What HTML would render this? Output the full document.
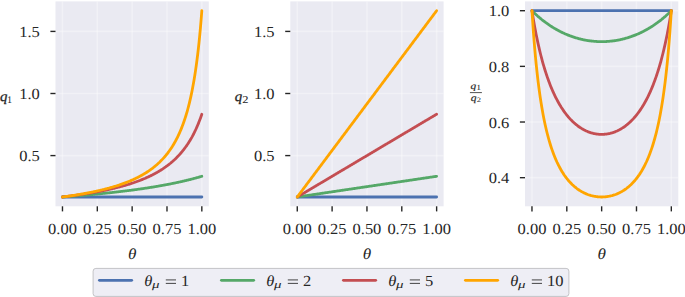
<!DOCTYPE html>
<html><head><meta charset="utf-8"><style>
html,body{margin:0;padding:0;background:#fff;}
body{width:685px;height:297px;position:relative;overflow:hidden;}
text{font-family:"Liberation Serif",serif;text-rendering:geometricPrecision;fill:#262626;font-kerning:none;stroke:#262626;stroke-width:0.0px;}
.t{font-size:15.4px;}
</style></head><body>
<svg width="685" height="297" viewBox="0 0 685 297" style="position:absolute;left:0;top:0">
<defs>
<clipPath id="c0"><rect x="55.5" y="1.4" width="153.3" height="204.90"/></clipPath>
<clipPath id="c1"><rect x="290.3" y="1.4" width="153.3" height="204.90"/></clipPath>
<clipPath id="c2"><rect x="525.0" y="1.4" width="153.3" height="204.90"/></clipPath>
</defs>
<rect x="55.5" y="1.4" width="153.3" height="204.90" fill="#EAEAF2"/>
<line x1="62.47" y1="1.4" x2="62.47" y2="206.3" stroke="#ffffff" stroke-opacity="0.32" stroke-width="1.6"/>
<line x1="97.31" y1="1.4" x2="97.31" y2="206.3" stroke="#ffffff" stroke-opacity="0.32" stroke-width="1.6"/>
<line x1="132.15" y1="1.4" x2="132.15" y2="206.3" stroke="#ffffff" stroke-opacity="0.32" stroke-width="1.6"/>
<line x1="166.99" y1="1.4" x2="166.99" y2="206.3" stroke="#ffffff" stroke-opacity="0.32" stroke-width="1.6"/>
<line x1="201.83" y1="1.4" x2="201.83" y2="206.3" stroke="#ffffff" stroke-opacity="0.32" stroke-width="1.6"/>
<line x1="55.5" y1="155.59" x2="208.80" y2="155.59" stroke="#ffffff" stroke-opacity="0.32" stroke-width="1.6"/>
<line x1="55.5" y1="93.50" x2="208.80" y2="93.50" stroke="#ffffff" stroke-opacity="0.32" stroke-width="1.6"/>
<line x1="55.5" y1="31.41" x2="208.80" y2="31.41" stroke="#ffffff" stroke-opacity="0.32" stroke-width="1.6"/>
<g clip-path="url(#c0)" fill="none" stroke-width="2.8" stroke-linecap="round" stroke-linejoin="round">
<path d="M62.47,196.99 L63.16,196.99 L63.86,196.99 L64.56,196.99 L65.26,196.99 L65.95,196.99 L66.65,196.99 L67.35,196.99 L68.04,196.99 L68.74,196.99 L69.44,196.99 L70.13,196.99 L70.83,196.99 L71.53,196.99 L72.22,196.99 L72.92,196.99 L73.62,196.99 L74.31,196.99 L75.01,196.99 L75.71,196.99 L76.40,196.99 L77.10,196.99 L77.80,196.99 L78.50,196.99 L79.19,196.99 L79.89,196.99 L80.59,196.99 L81.28,196.99 L81.98,196.99 L82.68,196.99 L83.37,196.99 L84.07,196.99 L84.77,196.99 L85.46,196.99 L86.16,196.99 L86.86,196.99 L87.55,196.99 L88.25,196.99 L88.95,196.99 L89.64,196.99 L90.34,196.99 L91.04,196.99 L91.73,196.99 L92.43,196.99 L93.13,196.99 L93.83,196.99 L94.52,196.99 L95.22,196.99 L95.92,196.99 L96.61,196.99 L97.31,196.99 L98.01,196.99 L98.70,196.99 L99.40,196.99 L100.10,196.99 L100.79,196.99 L101.49,196.99 L102.19,196.99 L102.88,196.99 L103.58,196.99 L104.28,196.99 L104.97,196.99 L105.67,196.99 L106.37,196.99 L107.06,196.99 L107.76,196.99 L108.46,196.99 L109.16,196.99 L109.85,196.99 L110.55,196.99 L111.25,196.99 L111.94,196.99 L112.64,196.99 L113.34,196.99 L114.03,196.99 L114.73,196.99 L115.43,196.99 L116.12,196.99 L116.82,196.99 L117.52,196.99 L118.21,196.99 L118.91,196.99 L119.61,196.99 L120.30,196.99 L121.00,196.99 L121.70,196.99 L122.39,196.99 L123.09,196.99 L123.79,196.99 L124.48,196.99 L125.18,196.99 L125.88,196.99 L126.58,196.99 L127.27,196.99 L127.97,196.99 L128.67,196.99 L129.36,196.99 L130.06,196.99 L130.76,196.99 L131.45,196.99 L132.15,196.99 L132.85,196.99 L133.54,196.99 L134.24,196.99 L134.94,196.99 L135.63,196.99 L136.33,196.99 L137.03,196.99 L137.72,196.99 L138.42,196.99 L139.12,196.99 L139.81,196.99 L140.51,196.99 L141.21,196.99 L141.91,196.99 L142.60,196.99 L143.30,196.99 L144.00,196.99 L144.69,196.99 L145.39,196.99 L146.09,196.99 L146.78,196.99 L147.48,196.99 L148.18,196.99 L148.87,196.99 L149.57,196.99 L150.27,196.99 L150.96,196.99 L151.66,196.99 L152.36,196.99 L153.05,196.99 L153.75,196.99 L154.45,196.99 L155.15,196.99 L155.84,196.99 L156.54,196.99 L157.24,196.99 L157.93,196.99 L158.63,196.99 L159.33,196.99 L160.02,196.99 L160.72,196.99 L161.42,196.99 L162.11,196.99 L162.81,196.99 L163.51,196.99 L164.20,196.99 L164.90,196.99 L165.60,196.99 L166.29,196.99 L166.99,196.99 L167.69,196.99 L168.38,196.99 L169.08,196.99 L169.78,196.99 L170.48,196.99 L171.17,196.99 L171.87,196.99 L172.57,196.99 L173.26,196.99 L173.96,196.99 L174.66,196.99 L175.35,196.99 L176.05,196.99 L176.75,196.99 L177.44,196.99 L178.14,196.99 L178.84,196.99 L179.53,196.99 L180.23,196.99 L180.93,196.99 L181.62,196.99 L182.32,196.99 L183.02,196.99 L183.71,196.99 L184.41,196.99 L185.11,196.99 L185.81,196.99 L186.50,196.99 L187.20,196.99 L187.90,196.99 L188.59,196.99 L189.29,196.99 L189.99,196.99 L190.68,196.99 L191.38,196.99 L192.08,196.99 L192.77,196.99 L193.47,196.99 L194.17,196.99 L194.86,196.99 L195.56,196.99 L196.26,196.99 L196.95,196.99 L197.65,196.99 L198.35,196.99 L199.04,196.99 L199.74,196.99 L200.44,196.99 L201.13,196.99 L201.83,196.99" stroke="#4C72B0"/>
<path d="M62.47,196.99 L63.16,196.93 L63.86,196.88 L64.56,196.83 L65.26,196.78 L65.95,196.72 L66.65,196.67 L67.35,196.62 L68.04,196.56 L68.74,196.51 L69.44,196.46 L70.13,196.40 L70.83,196.35 L71.53,196.29 L72.22,196.24 L72.92,196.18 L73.62,196.12 L74.31,196.07 L75.01,196.01 L75.71,195.95 L76.40,195.90 L77.10,195.84 L77.80,195.78 L78.50,195.72 L79.19,195.67 L79.89,195.61 L80.59,195.55 L81.28,195.49 L81.98,195.43 L82.68,195.37 L83.37,195.31 L84.07,195.25 L84.77,195.19 L85.46,195.13 L86.16,195.06 L86.86,195.00 L87.55,194.94 L88.25,194.88 L88.95,194.81 L89.64,194.75 L90.34,194.69 L91.04,194.62 L91.73,194.56 L92.43,194.49 L93.13,194.43 L93.83,194.36 L94.52,194.30 L95.22,194.23 L95.92,194.16 L96.61,194.10 L97.31,194.03 L98.01,193.96 L98.70,193.89 L99.40,193.83 L100.10,193.76 L100.79,193.69 L101.49,193.62 L102.19,193.55 L102.88,193.48 L103.58,193.41 L104.28,193.33 L104.97,193.26 L105.67,193.19 L106.37,193.12 L107.06,193.04 L107.76,192.97 L108.46,192.90 L109.16,192.82 L109.85,192.75 L110.55,192.67 L111.25,192.60 L111.94,192.52 L112.64,192.44 L113.34,192.37 L114.03,192.29 L114.73,192.21 L115.43,192.13 L116.12,192.05 L116.82,191.97 L117.52,191.89 L118.21,191.81 L118.91,191.73 L119.61,191.65 L120.30,191.57 L121.00,191.48 L121.70,191.40 L122.39,191.32 L123.09,191.23 L123.79,191.15 L124.48,191.06 L125.18,190.98 L125.88,190.89 L126.58,190.80 L127.27,190.72 L127.97,190.63 L128.67,190.54 L129.36,190.45 L130.06,190.36 L130.76,190.27 L131.45,190.18 L132.15,190.09 L132.85,190.00 L133.54,189.90 L134.24,189.81 L134.94,189.71 L135.63,189.62 L136.33,189.52 L137.03,189.43 L137.72,189.33 L138.42,189.23 L139.12,189.14 L139.81,189.04 L140.51,188.94 L141.21,188.84 L141.91,188.74 L142.60,188.63 L143.30,188.53 L144.00,188.43 L144.69,188.33 L145.39,188.22 L146.09,188.12 L146.78,188.01 L147.48,187.90 L148.18,187.80 L148.87,187.69 L149.57,187.58 L150.27,187.47 L150.96,187.36 L151.66,187.25 L152.36,187.13 L153.05,187.02 L153.75,186.91 L154.45,186.79 L155.15,186.68 L155.84,186.56 L156.54,186.44 L157.24,186.32 L157.93,186.21 L158.63,186.08 L159.33,185.96 L160.02,185.84 L160.72,185.72 L161.42,185.60 L162.11,185.47 L162.81,185.34 L163.51,185.22 L164.20,185.09 L164.90,184.96 L165.60,184.83 L166.29,184.70 L166.99,184.57 L167.69,184.44 L168.38,184.30 L169.08,184.17 L169.78,184.03 L170.48,183.89 L171.17,183.75 L171.87,183.61 L172.57,183.47 L173.26,183.33 L173.96,183.19 L174.66,183.04 L175.35,182.90 L176.05,182.75 L176.75,182.60 L177.44,182.45 L178.14,182.30 L178.84,182.15 L179.53,182.00 L180.23,181.84 L180.93,181.69 L181.62,181.53 L182.32,181.37 L183.02,181.21 L183.71,181.05 L184.41,180.89 L185.11,180.72 L185.81,180.56 L186.50,180.39 L187.20,180.22 L187.90,180.05 L188.59,179.88 L189.29,179.71 L189.99,179.53 L190.68,179.36 L191.38,179.18 L192.08,179.00 L192.77,178.82 L193.47,178.63 L194.17,178.45 L194.86,178.26 L195.56,178.07 L196.26,177.88 L196.95,177.69 L197.65,177.50 L198.35,177.30 L199.04,177.10 L199.74,176.90 L200.44,176.70 L201.13,176.50 L201.83,176.29" stroke="#55A868"/>
<path d="M62.47,196.99 L63.16,196.90 L63.86,196.82 L64.56,196.73 L65.26,196.65 L65.95,196.56 L66.65,196.48 L67.35,196.39 L68.04,196.30 L68.74,196.21 L69.44,196.12 L70.13,196.03 L70.83,195.94 L71.53,195.85 L72.22,195.76 L72.92,195.67 L73.62,195.57 L74.31,195.48 L75.01,195.38 L75.71,195.28 L76.40,195.19 L77.10,195.09 L77.80,194.99 L78.50,194.89 L79.19,194.79 L79.89,194.69 L80.59,194.58 L81.28,194.48 L81.98,194.38 L82.68,194.27 L83.37,194.16 L84.07,194.06 L84.77,193.95 L85.46,193.84 L86.16,193.73 L86.86,193.62 L87.55,193.50 L88.25,193.39 L88.95,193.28 L89.64,193.16 L90.34,193.04 L91.04,192.93 L91.73,192.81 L92.43,192.69 L93.13,192.57 L93.83,192.44 L94.52,192.32 L95.22,192.19 L95.92,192.07 L96.61,191.94 L97.31,191.81 L98.01,191.68 L98.70,191.55 L99.40,191.42 L100.10,191.28 L100.79,191.15 L101.49,191.01 L102.19,190.87 L102.88,190.73 L103.58,190.59 L104.28,190.45 L104.97,190.31 L105.67,190.16 L106.37,190.01 L107.06,189.86 L107.76,189.71 L108.46,189.56 L109.16,189.41 L109.85,189.25 L110.55,189.10 L111.25,188.94 L111.94,188.78 L112.64,188.61 L113.34,188.45 L114.03,188.28 L114.73,188.12 L115.43,187.95 L116.12,187.77 L116.82,187.60 L117.52,187.42 L118.21,187.25 L118.91,187.07 L119.61,186.88 L120.30,186.70 L121.00,186.51 L121.70,186.32 L122.39,186.13 L123.09,185.94 L123.79,185.74 L124.48,185.55 L125.18,185.34 L125.88,185.14 L126.58,184.93 L127.27,184.73 L127.97,184.52 L128.67,184.30 L129.36,184.08 L130.06,183.86 L130.76,183.64 L131.45,183.42 L132.15,183.19 L132.85,182.96 L133.54,182.72 L134.24,182.48 L134.94,182.24 L135.63,182.00 L136.33,181.75 L137.03,181.50 L137.72,181.25 L138.42,180.99 L139.12,180.72 L139.81,180.46 L140.51,180.19 L141.21,179.92 L141.91,179.64 L142.60,179.36 L143.30,179.07 L144.00,178.78 L144.69,178.48 L145.39,178.19 L146.09,177.88 L146.78,177.57 L147.48,177.26 L148.18,176.94 L148.87,176.62 L149.57,176.29 L150.27,175.96 L150.96,175.62 L151.66,175.27 L152.36,174.92 L153.05,174.56 L153.75,174.20 L154.45,173.83 L155.15,173.46 L155.84,173.08 L156.54,172.69 L157.24,172.30 L157.93,171.89 L158.63,171.48 L159.33,171.07 L160.02,170.64 L160.72,170.21 L161.42,169.77 L162.11,169.33 L162.81,168.87 L163.51,168.40 L164.20,167.93 L164.90,167.45 L165.60,166.96 L166.29,166.45 L166.99,165.94 L167.69,165.42 L168.38,164.88 L169.08,164.34 L169.78,163.78 L170.48,163.22 L171.17,162.64 L171.87,162.05 L172.57,161.44 L173.26,160.82 L173.96,160.19 L174.66,159.55 L175.35,158.89 L176.05,158.21 L176.75,157.52 L177.44,156.81 L178.14,156.09 L178.84,155.34 L179.53,154.58 L180.23,153.80 L180.93,153.01 L181.62,152.19 L182.32,151.35 L183.02,150.49 L183.71,149.60 L184.41,148.69 L185.11,147.76 L185.81,146.80 L186.50,145.82 L187.20,144.81 L187.90,143.77 L188.59,142.69 L189.29,141.59 L189.99,140.46 L190.68,139.29 L191.38,138.08 L192.08,136.84 L192.77,135.55 L193.47,134.23 L194.17,132.86 L194.86,131.45 L195.56,129.98 L196.26,128.47 L196.95,126.91 L197.65,125.29 L198.35,123.61 L199.04,121.86 L199.74,120.06 L200.44,118.18 L201.13,116.23 L201.83,114.20" stroke="#C44E52"/>
<path d="M62.47,196.99 L63.16,196.89 L63.86,196.80 L64.56,196.70 L65.26,196.61 L65.95,196.51 L66.65,196.41 L67.35,196.31 L68.04,196.21 L68.74,196.11 L69.44,196.01 L70.13,195.91 L70.83,195.80 L71.53,195.70 L72.22,195.59 L72.92,195.49 L73.62,195.38 L74.31,195.27 L75.01,195.16 L75.71,195.05 L76.40,194.94 L77.10,194.83 L77.80,194.71 L78.50,194.60 L79.19,194.48 L79.89,194.36 L80.59,194.24 L81.28,194.12 L81.98,194.00 L82.68,193.88 L83.37,193.76 L84.07,193.63 L84.77,193.50 L85.46,193.38 L86.16,193.25 L86.86,193.12 L87.55,192.99 L88.25,192.85 L88.95,192.72 L89.64,192.58 L90.34,192.44 L91.04,192.30 L91.73,192.16 L92.43,192.02 L93.13,191.88 L93.83,191.73 L94.52,191.58 L95.22,191.43 L95.92,191.28 L96.61,191.13 L97.31,190.98 L98.01,190.82 L98.70,190.66 L99.40,190.50 L100.10,190.34 L100.79,190.18 L101.49,190.01 L102.19,189.85 L102.88,189.68 L103.58,189.51 L104.28,189.33 L104.97,189.16 L105.67,188.98 L106.37,188.80 L107.06,188.61 L107.76,188.43 L108.46,188.24 L109.16,188.05 L109.85,187.86 L110.55,187.67 L111.25,187.47 L111.94,187.27 L112.64,187.07 L113.34,186.86 L114.03,186.65 L114.73,186.44 L115.43,186.23 L116.12,186.01 L116.82,185.79 L117.52,185.57 L118.21,185.34 L118.91,185.12 L119.61,184.88 L120.30,184.65 L121.00,184.41 L121.70,184.17 L122.39,183.92 L123.09,183.67 L123.79,183.42 L124.48,183.16 L125.18,182.90 L125.88,182.63 L126.58,182.36 L127.27,182.09 L127.97,181.81 L128.67,181.53 L129.36,181.25 L130.06,180.95 L130.76,180.66 L131.45,180.36 L132.15,180.05 L132.85,179.74 L133.54,179.43 L134.24,179.11 L134.94,178.78 L135.63,178.45 L136.33,178.11 L137.03,177.77 L137.72,177.42 L138.42,177.06 L139.12,176.70 L139.81,176.33 L140.51,175.96 L141.21,175.57 L141.91,175.18 L142.60,174.79 L143.30,174.38 L144.00,173.97 L144.69,173.55 L145.39,173.13 L146.09,172.69 L146.78,172.25 L147.48,171.79 L148.18,171.33 L148.87,170.86 L149.57,170.38 L150.27,169.88 L150.96,169.38 L151.66,168.87 L152.36,168.35 L153.05,167.81 L153.75,167.26 L154.45,166.71 L155.15,166.13 L155.84,165.55 L156.54,164.95 L157.24,164.34 L157.93,163.71 L158.63,163.07 L159.33,162.42 L160.02,161.75 L160.72,161.06 L161.42,160.35 L162.11,159.63 L162.81,158.89 L163.51,158.12 L164.20,157.34 L164.90,156.54 L165.60,155.72 L166.29,154.87 L166.99,154.00 L167.69,153.11 L168.38,152.19 L169.08,151.24 L169.78,150.27 L170.48,149.26 L171.17,148.23 L171.87,147.17 L172.57,146.07 L173.26,144.93 L173.96,143.77 L174.66,142.56 L175.35,141.31 L176.05,140.02 L176.75,138.69 L177.44,137.31 L178.14,135.88 L178.84,134.40 L179.53,132.86 L180.23,131.27 L180.93,129.61 L181.62,127.89 L182.32,126.10 L183.02,124.24 L183.71,122.31 L184.41,120.29 L185.11,118.18 L185.81,115.98 L186.50,113.68 L187.20,111.27 L187.90,108.75 L188.59,106.11 L189.29,103.34 L189.99,100.42 L190.68,97.35 L191.38,94.12 L192.08,90.71 L192.77,87.10 L193.47,83.29 L194.17,79.24 L194.86,74.95 L195.56,70.37 L196.26,65.50 L196.95,60.29 L197.65,54.72 L198.35,48.73 L199.04,42.29 L199.74,35.33 L200.44,27.80 L201.13,19.63 L201.83,10.71" stroke="#FFA500"/>
</g>
<line x1="62.47" y1="206.3" x2="62.47" y2="211.40" stroke="#262626" stroke-width="1.4"/>
<text transform="translate(62.47,233.80) scale(1.07,1)" text-anchor="middle" class="t">0.00</text>
<line x1="97.31" y1="206.3" x2="97.31" y2="211.40" stroke="#262626" stroke-width="1.4"/>
<text transform="translate(97.31,233.80) scale(1.07,1)" text-anchor="middle" class="t">0.25</text>
<line x1="132.15" y1="206.3" x2="132.15" y2="211.40" stroke="#262626" stroke-width="1.4"/>
<text transform="translate(132.15,233.80) scale(1.07,1)" text-anchor="middle" class="t">0.50</text>
<line x1="166.99" y1="206.3" x2="166.99" y2="211.40" stroke="#262626" stroke-width="1.4"/>
<text transform="translate(166.99,233.80) scale(1.07,1)" text-anchor="middle" class="t">0.75</text>
<line x1="201.83" y1="206.3" x2="201.83" y2="211.40" stroke="#262626" stroke-width="1.4"/>
<text transform="translate(201.83,233.80) scale(1.07,1)" text-anchor="middle" class="t">1.00</text>
<line x1="50.40" y1="155.59" x2="55.5" y2="155.59" stroke="#262626" stroke-width="1.4"/>
<text transform="translate(39.80,161.09) scale(1.07,1)" text-anchor="end" class="t">0.5</text>
<line x1="50.40" y1="93.50" x2="55.5" y2="93.50" stroke="#262626" stroke-width="1.4"/>
<text transform="translate(39.80,99.00) scale(1.07,1)" text-anchor="end" class="t">1.0</text>
<line x1="50.40" y1="31.41" x2="55.5" y2="31.41" stroke="#262626" stroke-width="1.4"/>
<text transform="translate(39.80,36.91) scale(1.07,1)" text-anchor="end" class="t">1.5</text>
<text transform="translate(127.96,258.55) scale(1.128,1)" style="font-size:15.23px;font-style:italic;">θ</text>
<rect x="290.3" y="1.4" width="153.3" height="204.90" fill="#EAEAF2"/>
<line x1="297.27" y1="1.4" x2="297.27" y2="206.3" stroke="#ffffff" stroke-opacity="0.32" stroke-width="1.6"/>
<line x1="332.11" y1="1.4" x2="332.11" y2="206.3" stroke="#ffffff" stroke-opacity="0.32" stroke-width="1.6"/>
<line x1="366.95" y1="1.4" x2="366.95" y2="206.3" stroke="#ffffff" stroke-opacity="0.32" stroke-width="1.6"/>
<line x1="401.79" y1="1.4" x2="401.79" y2="206.3" stroke="#ffffff" stroke-opacity="0.32" stroke-width="1.6"/>
<line x1="436.63" y1="1.4" x2="436.63" y2="206.3" stroke="#ffffff" stroke-opacity="0.32" stroke-width="1.6"/>
<line x1="290.3" y1="155.59" x2="443.60" y2="155.59" stroke="#ffffff" stroke-opacity="0.32" stroke-width="1.6"/>
<line x1="290.3" y1="93.50" x2="443.60" y2="93.50" stroke="#ffffff" stroke-opacity="0.32" stroke-width="1.6"/>
<line x1="290.3" y1="31.41" x2="443.60" y2="31.41" stroke="#ffffff" stroke-opacity="0.32" stroke-width="1.6"/>
<g clip-path="url(#c1)" fill="none" stroke-width="2.8" stroke-linecap="round" stroke-linejoin="round">
<path d="M297.27,196.99 L297.97,196.99 L298.66,196.99 L299.36,196.99 L300.06,196.99 L300.75,196.99 L301.45,196.99 L302.15,196.99 L302.84,196.99 L303.54,196.99 L304.24,196.99 L304.93,196.99 L305.63,196.99 L306.33,196.99 L307.02,196.99 L307.72,196.99 L308.42,196.99 L309.11,196.99 L309.81,196.99 L310.51,196.99 L311.20,196.99 L311.90,196.99 L312.60,196.99 L313.30,196.99 L313.99,196.99 L314.69,196.99 L315.39,196.99 L316.08,196.99 L316.78,196.99 L317.48,196.99 L318.17,196.99 L318.87,196.99 L319.57,196.99 L320.26,196.99 L320.96,196.99 L321.66,196.99 L322.35,196.99 L323.05,196.99 L323.75,196.99 L324.44,196.99 L325.14,196.99 L325.84,196.99 L326.53,196.99 L327.23,196.99 L327.93,196.99 L328.62,196.99 L329.32,196.99 L330.02,196.99 L330.72,196.99 L331.41,196.99 L332.11,196.99 L332.81,196.99 L333.50,196.99 L334.20,196.99 L334.90,196.99 L335.59,196.99 L336.29,196.99 L336.99,196.99 L337.68,196.99 L338.38,196.99 L339.08,196.99 L339.77,196.99 L340.47,196.99 L341.17,196.99 L341.86,196.99 L342.56,196.99 L343.26,196.99 L343.96,196.99 L344.65,196.99 L345.35,196.99 L346.05,196.99 L346.74,196.99 L347.44,196.99 L348.14,196.99 L348.83,196.99 L349.53,196.99 L350.23,196.99 L350.92,196.99 L351.62,196.99 L352.32,196.99 L353.01,196.99 L353.71,196.99 L354.41,196.99 L355.10,196.99 L355.80,196.99 L356.50,196.99 L357.19,196.99 L357.89,196.99 L358.59,196.99 L359.29,196.99 L359.98,196.99 L360.68,196.99 L361.38,196.99 L362.07,196.99 L362.77,196.99 L363.47,196.99 L364.16,196.99 L364.86,196.99 L365.56,196.99 L366.25,196.99 L366.95,196.99 L367.65,196.99 L368.34,196.99 L369.04,196.99 L369.74,196.99 L370.43,196.99 L371.13,196.99 L371.83,196.99 L372.52,196.99 L373.22,196.99 L373.92,196.99 L374.62,196.99 L375.31,196.99 L376.01,196.99 L376.71,196.99 L377.40,196.99 L378.10,196.99 L378.80,196.99 L379.49,196.99 L380.19,196.99 L380.89,196.99 L381.58,196.99 L382.28,196.99 L382.98,196.99 L383.67,196.99 L384.37,196.99 L385.07,196.99 L385.76,196.99 L386.46,196.99 L387.16,196.99 L387.85,196.99 L388.55,196.99 L389.25,196.99 L389.95,196.99 L390.64,196.99 L391.34,196.99 L392.04,196.99 L392.73,196.99 L393.43,196.99 L394.13,196.99 L394.82,196.99 L395.52,196.99 L396.22,196.99 L396.91,196.99 L397.61,196.99 L398.31,196.99 L399.00,196.99 L399.70,196.99 L400.40,196.99 L401.09,196.99 L401.79,196.99 L402.49,196.99 L403.18,196.99 L403.88,196.99 L404.58,196.99 L405.28,196.99 L405.97,196.99 L406.67,196.99 L407.37,196.99 L408.06,196.99 L408.76,196.99 L409.46,196.99 L410.15,196.99 L410.85,196.99 L411.55,196.99 L412.24,196.99 L412.94,196.99 L413.64,196.99 L414.33,196.99 L415.03,196.99 L415.73,196.99 L416.42,196.99 L417.12,196.99 L417.82,196.99 L418.51,196.99 L419.21,196.99 L419.91,196.99 L420.61,196.99 L421.30,196.99 L422.00,196.99 L422.70,196.99 L423.39,196.99 L424.09,196.99 L424.79,196.99 L425.48,196.99 L426.18,196.99 L426.88,196.99 L427.57,196.99 L428.27,196.99 L428.97,196.99 L429.66,196.99 L430.36,196.99 L431.06,196.99 L431.75,196.99 L432.45,196.99 L433.15,196.99 L433.84,196.99 L434.54,196.99 L435.24,196.99 L435.94,196.99 L436.63,196.99" stroke="#4C72B0"/>
<path d="M297.27,196.99 L297.97,196.88 L298.66,196.78 L299.36,196.68 L300.06,196.57 L300.75,196.47 L301.45,196.37 L302.15,196.26 L302.84,196.16 L303.54,196.06 L304.24,195.95 L304.93,195.85 L305.63,195.74 L306.33,195.64 L307.02,195.54 L307.72,195.43 L308.42,195.33 L309.11,195.23 L309.81,195.12 L310.51,195.02 L311.20,194.92 L311.90,194.81 L312.60,194.71 L313.30,194.61 L313.99,194.50 L314.69,194.40 L315.39,194.30 L316.08,194.19 L316.78,194.09 L317.48,193.99 L318.17,193.88 L318.87,193.78 L319.57,193.67 L320.26,193.57 L320.96,193.47 L321.66,193.36 L322.35,193.26 L323.05,193.16 L323.75,193.05 L324.44,192.95 L325.14,192.85 L325.84,192.74 L326.53,192.64 L327.23,192.54 L327.93,192.43 L328.62,192.33 L329.32,192.23 L330.02,192.12 L330.72,192.02 L331.41,191.92 L332.11,191.81 L332.81,191.71 L333.50,191.61 L334.20,191.50 L334.90,191.40 L335.59,191.29 L336.29,191.19 L336.99,191.09 L337.68,190.98 L338.38,190.88 L339.08,190.78 L339.77,190.67 L340.47,190.57 L341.17,190.47 L341.86,190.36 L342.56,190.26 L343.26,190.16 L343.96,190.05 L344.65,189.95 L345.35,189.85 L346.05,189.74 L346.74,189.64 L347.44,189.54 L348.14,189.43 L348.83,189.33 L349.53,189.22 L350.23,189.12 L350.92,189.02 L351.62,188.91 L352.32,188.81 L353.01,188.71 L353.71,188.60 L354.41,188.50 L355.10,188.40 L355.80,188.29 L356.50,188.19 L357.19,188.09 L357.89,187.98 L358.59,187.88 L359.29,187.78 L359.98,187.67 L360.68,187.57 L361.38,187.47 L362.07,187.36 L362.77,187.26 L363.47,187.16 L364.16,187.05 L364.86,186.95 L365.56,186.84 L366.25,186.74 L366.95,186.64 L367.65,186.53 L368.34,186.43 L369.04,186.33 L369.74,186.22 L370.43,186.12 L371.13,186.02 L371.83,185.91 L372.52,185.81 L373.22,185.71 L373.92,185.60 L374.62,185.50 L375.31,185.40 L376.01,185.29 L376.71,185.19 L377.40,185.09 L378.10,184.98 L378.80,184.88 L379.49,184.78 L380.19,184.67 L380.89,184.57 L381.58,184.46 L382.28,184.36 L382.98,184.26 L383.67,184.15 L384.37,184.05 L385.07,183.95 L385.76,183.84 L386.46,183.74 L387.16,183.64 L387.85,183.53 L388.55,183.43 L389.25,183.33 L389.95,183.22 L390.64,183.12 L391.34,183.02 L392.04,182.91 L392.73,182.81 L393.43,182.71 L394.13,182.60 L394.82,182.50 L395.52,182.40 L396.22,182.29 L396.91,182.19 L397.61,182.08 L398.31,181.98 L399.00,181.88 L399.70,181.77 L400.40,181.67 L401.09,181.57 L401.79,181.46 L402.49,181.36 L403.18,181.26 L403.88,181.15 L404.58,181.05 L405.28,180.95 L405.97,180.84 L406.67,180.74 L407.37,180.64 L408.06,180.53 L408.76,180.43 L409.46,180.33 L410.15,180.22 L410.85,180.12 L411.55,180.01 L412.24,179.91 L412.94,179.81 L413.64,179.70 L414.33,179.60 L415.03,179.50 L415.73,179.39 L416.42,179.29 L417.12,179.19 L417.82,179.08 L418.51,178.98 L419.21,178.88 L419.91,178.77 L420.61,178.67 L421.30,178.57 L422.00,178.46 L422.70,178.36 L423.39,178.26 L424.09,178.15 L424.79,178.05 L425.48,177.95 L426.18,177.84 L426.88,177.74 L427.57,177.63 L428.27,177.53 L428.97,177.43 L429.66,177.32 L430.36,177.22 L431.06,177.12 L431.75,177.01 L432.45,176.91 L433.15,176.81 L433.84,176.70 L434.54,176.60 L435.24,176.50 L435.94,176.39 L436.63,176.29" stroke="#55A868"/>
<path d="M297.27,196.99 L297.97,196.57 L298.66,196.16 L299.36,195.74 L300.06,195.33 L300.75,194.92 L301.45,194.50 L302.15,194.09 L302.84,193.67 L303.54,193.26 L304.24,192.85 L304.93,192.43 L305.63,192.02 L306.33,191.61 L307.02,191.19 L307.72,190.78 L308.42,190.36 L309.11,189.95 L309.81,189.54 L310.51,189.12 L311.20,188.71 L311.90,188.29 L312.60,187.88 L313.30,187.47 L313.99,187.05 L314.69,186.64 L315.39,186.22 L316.08,185.81 L316.78,185.40 L317.48,184.98 L318.17,184.57 L318.87,184.15 L319.57,183.74 L320.26,183.33 L320.96,182.91 L321.66,182.50 L322.35,182.08 L323.05,181.67 L323.75,181.26 L324.44,180.84 L325.14,180.43 L325.84,180.01 L326.53,179.60 L327.23,179.19 L327.93,178.77 L328.62,178.36 L329.32,177.95 L330.02,177.53 L330.72,177.12 L331.41,176.70 L332.11,176.29 L332.81,175.88 L333.50,175.46 L334.20,175.05 L334.90,174.63 L335.59,174.22 L336.29,173.81 L336.99,173.39 L337.68,172.98 L338.38,172.56 L339.08,172.15 L339.77,171.74 L340.47,171.32 L341.17,170.91 L341.86,170.49 L342.56,170.08 L343.26,169.67 L343.96,169.25 L344.65,168.84 L345.35,168.42 L346.05,168.01 L346.74,167.60 L347.44,167.18 L348.14,166.77 L348.83,166.35 L349.53,165.94 L350.23,165.53 L350.92,165.11 L351.62,164.70 L352.32,164.29 L353.01,163.87 L353.71,163.46 L354.41,163.04 L355.10,162.63 L355.80,162.22 L356.50,161.80 L357.19,161.39 L357.89,160.97 L358.59,160.56 L359.29,160.15 L359.98,159.73 L360.68,159.32 L361.38,158.90 L362.07,158.49 L362.77,158.08 L363.47,157.66 L364.16,157.25 L364.86,156.83 L365.56,156.42 L366.25,156.01 L366.95,155.59 L367.65,155.18 L368.34,154.76 L369.04,154.35 L369.74,153.94 L370.43,153.52 L371.13,153.11 L371.83,152.69 L372.52,152.28 L373.22,151.87 L373.92,151.45 L374.62,151.04 L375.31,150.63 L376.01,150.21 L376.71,149.80 L377.40,149.38 L378.10,148.97 L378.80,148.56 L379.49,148.14 L380.19,147.73 L380.89,147.31 L381.58,146.90 L382.28,146.49 L382.98,146.07 L383.67,145.66 L384.37,145.24 L385.07,144.83 L385.76,144.42 L386.46,144.00 L387.16,143.59 L387.85,143.17 L388.55,142.76 L389.25,142.35 L389.95,141.93 L390.64,141.52 L391.34,141.10 L392.04,140.69 L392.73,140.28 L393.43,139.86 L394.13,139.45 L394.82,139.03 L395.52,138.62 L396.22,138.21 L396.91,137.79 L397.61,137.38 L398.31,136.97 L399.00,136.55 L399.70,136.14 L400.40,135.72 L401.09,135.31 L401.79,134.90 L402.49,134.48 L403.18,134.07 L403.88,133.65 L404.58,133.24 L405.28,132.83 L405.97,132.41 L406.67,132.00 L407.37,131.58 L408.06,131.17 L408.76,130.76 L409.46,130.34 L410.15,129.93 L410.85,129.51 L411.55,129.10 L412.24,128.69 L412.94,128.27 L413.64,127.86 L414.33,127.44 L415.03,127.03 L415.73,126.62 L416.42,126.20 L417.12,125.79 L417.82,125.37 L418.51,124.96 L419.21,124.55 L419.91,124.13 L420.61,123.72 L421.30,123.31 L422.00,122.89 L422.70,122.48 L423.39,122.06 L424.09,121.65 L424.79,121.24 L425.48,120.82 L426.18,120.41 L426.88,119.99 L427.57,119.58 L428.27,119.17 L428.97,118.75 L429.66,118.34 L430.36,117.92 L431.06,117.51 L431.75,117.10 L432.45,116.68 L433.15,116.27 L433.84,115.85 L434.54,115.44 L435.24,115.03 L435.94,114.61 L436.63,114.20" stroke="#C44E52"/>
<path d="M297.27,196.99 L297.97,196.06 L298.66,195.12 L299.36,194.19 L300.06,193.26 L300.75,192.33 L301.45,191.40 L302.15,190.47 L302.84,189.54 L303.54,188.60 L304.24,187.67 L304.93,186.74 L305.63,185.81 L306.33,184.88 L307.02,183.95 L307.72,183.02 L308.42,182.08 L309.11,181.15 L309.81,180.22 L310.51,179.29 L311.20,178.36 L311.90,177.43 L312.60,176.50 L313.30,175.56 L313.99,174.63 L314.69,173.70 L315.39,172.77 L316.08,171.84 L316.78,170.91 L317.48,169.98 L318.17,169.05 L318.87,168.11 L319.57,167.18 L320.26,166.25 L320.96,165.32 L321.66,164.39 L322.35,163.46 L323.05,162.53 L323.75,161.59 L324.44,160.66 L325.14,159.73 L325.84,158.80 L326.53,157.87 L327.23,156.94 L327.93,156.01 L328.62,155.07 L329.32,154.14 L330.02,153.21 L330.72,152.28 L331.41,151.35 L332.11,150.42 L332.81,149.49 L333.50,148.56 L334.20,147.62 L334.90,146.69 L335.59,145.76 L336.29,144.83 L336.99,143.90 L337.68,142.97 L338.38,142.04 L339.08,141.10 L339.77,140.17 L340.47,139.24 L341.17,138.31 L341.86,137.38 L342.56,136.45 L343.26,135.52 L343.96,134.58 L344.65,133.65 L345.35,132.72 L346.05,131.79 L346.74,130.86 L347.44,129.93 L348.14,129.00 L348.83,128.07 L349.53,127.13 L350.23,126.20 L350.92,125.27 L351.62,124.34 L352.32,123.41 L353.01,122.48 L353.71,121.55 L354.41,120.61 L355.10,119.68 L355.80,118.75 L356.50,117.82 L357.19,116.89 L357.89,115.96 L358.59,115.03 L359.29,114.09 L359.98,113.16 L360.68,112.23 L361.38,111.30 L362.07,110.37 L362.77,109.44 L363.47,108.51 L364.16,107.58 L364.86,106.64 L365.56,105.71 L366.25,104.78 L366.95,103.85 L367.65,102.92 L368.34,101.99 L369.04,101.06 L369.74,100.12 L370.43,99.19 L371.13,98.26 L371.83,97.33 L372.52,96.40 L373.22,95.47 L373.92,94.54 L374.62,93.60 L375.31,92.67 L376.01,91.74 L376.71,90.81 L377.40,89.88 L378.10,88.95 L378.80,88.02 L379.49,87.09 L380.19,86.15 L380.89,85.22 L381.58,84.29 L382.28,83.36 L382.98,82.43 L383.67,81.50 L384.37,80.57 L385.07,79.63 L385.76,78.70 L386.46,77.77 L387.16,76.84 L387.85,75.91 L388.55,74.98 L389.25,74.05 L389.95,73.12 L390.64,72.18 L391.34,71.25 L392.04,70.32 L392.73,69.39 L393.43,68.46 L394.13,67.53 L394.82,66.60 L395.52,65.66 L396.22,64.73 L396.91,63.80 L397.61,62.87 L398.31,61.94 L399.00,61.01 L399.70,60.08 L400.40,59.14 L401.09,58.21 L401.79,57.28 L402.49,56.35 L403.18,55.42 L403.88,54.49 L404.58,53.56 L405.28,52.62 L405.97,51.69 L406.67,50.76 L407.37,49.83 L408.06,48.90 L408.76,47.97 L409.46,47.04 L410.15,46.11 L410.85,45.17 L411.55,44.24 L412.24,43.31 L412.94,42.38 L413.64,41.45 L414.33,40.52 L415.03,39.59 L415.73,38.65 L416.42,37.72 L417.12,36.79 L417.82,35.86 L418.51,34.93 L419.21,34.00 L419.91,33.07 L420.61,32.13 L421.30,31.20 L422.00,30.27 L422.70,29.34 L423.39,28.41 L424.09,27.48 L424.79,26.55 L425.48,25.62 L426.18,24.68 L426.88,23.75 L427.57,22.82 L428.27,21.89 L428.97,20.96 L429.66,20.03 L430.36,19.10 L431.06,18.16 L431.75,17.23 L432.45,16.30 L433.15,15.37 L433.84,14.44 L434.54,13.51 L435.24,12.58 L435.94,11.64 L436.63,10.71" stroke="#FFA500"/>
</g>
<line x1="297.27" y1="206.3" x2="297.27" y2="211.40" stroke="#262626" stroke-width="1.4"/>
<text transform="translate(297.27,233.80) scale(1.07,1)" text-anchor="middle" class="t">0.00</text>
<line x1="332.11" y1="206.3" x2="332.11" y2="211.40" stroke="#262626" stroke-width="1.4"/>
<text transform="translate(332.11,233.80) scale(1.07,1)" text-anchor="middle" class="t">0.25</text>
<line x1="366.95" y1="206.3" x2="366.95" y2="211.40" stroke="#262626" stroke-width="1.4"/>
<text transform="translate(366.95,233.80) scale(1.07,1)" text-anchor="middle" class="t">0.50</text>
<line x1="401.79" y1="206.3" x2="401.79" y2="211.40" stroke="#262626" stroke-width="1.4"/>
<text transform="translate(401.79,233.80) scale(1.07,1)" text-anchor="middle" class="t">0.75</text>
<line x1="436.63" y1="206.3" x2="436.63" y2="211.40" stroke="#262626" stroke-width="1.4"/>
<text transform="translate(436.63,233.80) scale(1.07,1)" text-anchor="middle" class="t">1.00</text>
<line x1="285.20" y1="155.59" x2="290.3" y2="155.59" stroke="#262626" stroke-width="1.4"/>
<text transform="translate(274.60,161.09) scale(1.07,1)" text-anchor="end" class="t">0.5</text>
<line x1="285.20" y1="93.50" x2="290.3" y2="93.50" stroke="#262626" stroke-width="1.4"/>
<text transform="translate(274.60,99.00) scale(1.07,1)" text-anchor="end" class="t">1.0</text>
<line x1="285.20" y1="31.41" x2="290.3" y2="31.41" stroke="#262626" stroke-width="1.4"/>
<text transform="translate(274.60,36.91) scale(1.07,1)" text-anchor="end" class="t">1.5</text>
<text transform="translate(362.76,258.55) scale(1.128,1)" style="font-size:15.23px;font-style:italic;">θ</text>
<rect x="525.0" y="1.4" width="153.3" height="204.90" fill="#EAEAF2"/>
<line x1="531.97" y1="1.4" x2="531.97" y2="206.3" stroke="#ffffff" stroke-opacity="0.32" stroke-width="1.6"/>
<line x1="566.81" y1="1.4" x2="566.81" y2="206.3" stroke="#ffffff" stroke-opacity="0.32" stroke-width="1.6"/>
<line x1="601.65" y1="1.4" x2="601.65" y2="206.3" stroke="#ffffff" stroke-opacity="0.32" stroke-width="1.6"/>
<line x1="636.49" y1="1.4" x2="636.49" y2="206.3" stroke="#ffffff" stroke-opacity="0.32" stroke-width="1.6"/>
<line x1="671.33" y1="1.4" x2="671.33" y2="206.3" stroke="#ffffff" stroke-opacity="0.32" stroke-width="1.6"/>
<line x1="525.0" y1="177.67" x2="678.30" y2="177.67" stroke="#ffffff" stroke-opacity="0.32" stroke-width="1.6"/>
<line x1="525.0" y1="122.02" x2="678.30" y2="122.02" stroke="#ffffff" stroke-opacity="0.32" stroke-width="1.6"/>
<line x1="525.0" y1="66.37" x2="678.30" y2="66.37" stroke="#ffffff" stroke-opacity="0.32" stroke-width="1.6"/>
<line x1="525.0" y1="10.71" x2="678.30" y2="10.71" stroke="#ffffff" stroke-opacity="0.32" stroke-width="1.6"/>
<g clip-path="url(#c2)" fill="none" stroke-width="2.8" stroke-linecap="round" stroke-linejoin="round">
<path d="M531.97,10.71 L532.66,10.71 L533.36,10.71 L534.06,10.71 L534.76,10.71 L535.45,10.71 L536.15,10.71 L536.85,10.71 L537.54,10.71 L538.24,10.71 L538.94,10.71 L539.63,10.71 L540.33,10.71 L541.03,10.71 L541.72,10.71 L542.42,10.71 L543.12,10.71 L543.81,10.71 L544.51,10.71 L545.21,10.71 L545.90,10.71 L546.60,10.71 L547.30,10.71 L548.00,10.71 L548.69,10.71 L549.39,10.71 L550.09,10.71 L550.78,10.71 L551.48,10.71 L552.18,10.71 L552.87,10.71 L553.57,10.71 L554.27,10.71 L554.96,10.71 L555.66,10.71 L556.36,10.71 L557.05,10.71 L557.75,10.71 L558.45,10.71 L559.14,10.71 L559.84,10.71 L560.54,10.71 L561.23,10.71 L561.93,10.71 L562.63,10.71 L563.33,10.71 L564.02,10.71 L564.72,10.71 L565.42,10.71 L566.11,10.71 L566.81,10.71 L567.51,10.71 L568.20,10.71 L568.90,10.71 L569.60,10.71 L570.29,10.71 L570.99,10.71 L571.69,10.71 L572.38,10.71 L573.08,10.71 L573.78,10.71 L574.47,10.71 L575.17,10.71 L575.87,10.71 L576.56,10.71 L577.26,10.71 L577.96,10.71 L578.65,10.71 L579.35,10.71 L580.05,10.71 L580.75,10.71 L581.44,10.71 L582.14,10.71 L582.84,10.71 L583.53,10.71 L584.23,10.71 L584.93,10.71 L585.62,10.71 L586.32,10.71 L587.02,10.71 L587.71,10.71 L588.41,10.71 L589.11,10.71 L589.80,10.71 L590.50,10.71 L591.20,10.71 L591.89,10.71 L592.59,10.71 L593.29,10.71 L593.99,10.71 L594.68,10.71 L595.38,10.71 L596.08,10.71 L596.77,10.71 L597.47,10.71 L598.17,10.71 L598.86,10.71 L599.56,10.71 L600.26,10.71 L600.95,10.71 L601.65,10.71 L602.35,10.71 L603.04,10.71 L603.74,10.71 L604.44,10.71 L605.13,10.71 L605.83,10.71 L606.53,10.71 L607.22,10.71 L607.92,10.71 L608.62,10.71 L609.32,10.71 L610.01,10.71 L610.71,10.71 L611.41,10.71 L612.10,10.71 L612.80,10.71 L613.50,10.71 L614.19,10.71 L614.89,10.71 L615.59,10.71 L616.28,10.71 L616.98,10.71 L617.68,10.71 L618.37,10.71 L619.07,10.71 L619.77,10.71 L620.46,10.71 L621.16,10.71 L621.86,10.71 L622.55,10.71 L623.25,10.71 L623.95,10.71 L624.64,10.71 L625.34,10.71 L626.04,10.71 L626.74,10.71 L627.43,10.71 L628.13,10.71 L628.83,10.71 L629.52,10.71 L630.22,10.71 L630.92,10.71 L631.61,10.71 L632.31,10.71 L633.01,10.71 L633.70,10.71 L634.40,10.71 L635.10,10.71 L635.79,10.71 L636.49,10.71 L637.19,10.71 L637.88,10.71 L638.58,10.71 L639.28,10.71 L639.98,10.71 L640.67,10.71 L641.37,10.71 L642.07,10.71 L642.76,10.71 L643.46,10.71 L644.16,10.71 L644.85,10.71 L645.55,10.71 L646.25,10.71 L646.94,10.71 L647.64,10.71 L648.34,10.71 L649.03,10.71 L649.73,10.71 L650.43,10.71 L651.12,10.71 L651.82,10.71 L652.52,10.71 L653.21,10.71 L653.91,10.71 L654.61,10.71 L655.31,10.71 L656.00,10.71 L656.70,10.71 L657.40,10.71 L658.09,10.71 L658.79,10.71 L659.49,10.71 L660.18,10.71 L660.88,10.71 L661.58,10.71 L662.27,10.71 L662.97,10.71 L663.67,10.71 L664.36,10.71 L665.06,10.71 L665.76,10.71 L666.45,10.71 L667.15,10.71 L667.85,10.71 L668.54,10.71 L669.24,10.71 L669.94,10.71 L670.63,10.71 L671.33,10.71" stroke="#4C72B0"/>
<path d="M531.97,10.71 L532.66,11.40 L533.36,12.08 L534.06,12.75 L534.76,13.41 L535.45,14.06 L536.15,14.70 L536.85,15.33 L537.54,15.96 L538.24,16.57 L538.94,17.17 L539.63,17.76 L540.33,18.35 L541.03,18.92 L541.72,19.49 L542.42,20.04 L543.12,20.59 L543.81,21.13 L544.51,21.66 L545.21,22.18 L545.90,22.70 L546.60,23.20 L547.30,23.70 L548.00,24.19 L548.69,24.67 L549.39,25.14 L550.09,25.61 L550.78,26.06 L551.48,26.51 L552.18,26.96 L552.87,27.39 L553.57,27.82 L554.27,28.24 L554.96,28.65 L555.66,29.05 L556.36,29.45 L557.05,29.84 L557.75,30.22 L558.45,30.60 L559.14,30.96 L559.84,31.33 L560.54,31.68 L561.23,32.03 L561.93,32.37 L562.63,32.70 L563.33,33.03 L564.02,33.35 L564.72,33.66 L565.42,33.97 L566.11,34.27 L566.81,34.56 L567.51,34.85 L568.20,35.13 L568.90,35.41 L569.60,35.68 L570.29,35.94 L570.99,36.19 L571.69,36.44 L572.38,36.69 L573.08,36.92 L573.78,37.15 L574.47,37.38 L575.17,37.60 L575.87,37.81 L576.56,38.02 L577.26,38.22 L577.96,38.41 L578.65,38.60 L579.35,38.78 L580.05,38.96 L580.75,39.13 L581.44,39.30 L582.14,39.46 L582.84,39.61 L583.53,39.76 L584.23,39.90 L584.93,40.04 L585.62,40.17 L586.32,40.29 L587.02,40.41 L587.71,40.53 L588.41,40.64 L589.11,40.74 L589.80,40.83 L590.50,40.93 L591.20,41.01 L591.89,41.09 L592.59,41.17 L593.29,41.23 L593.99,41.30 L594.68,41.36 L595.38,41.41 L596.08,41.46 L596.77,41.50 L597.47,41.53 L598.17,41.56 L598.86,41.59 L599.56,41.61 L600.26,41.62 L600.95,41.63 L601.65,41.63 L602.35,41.63 L603.04,41.62 L603.74,41.61 L604.44,41.59 L605.13,41.56 L605.83,41.53 L606.53,41.50 L607.22,41.46 L607.92,41.41 L608.62,41.36 L609.32,41.30 L610.01,41.23 L610.71,41.17 L611.41,41.09 L612.10,41.01 L612.80,40.93 L613.50,40.83 L614.19,40.74 L614.89,40.64 L615.59,40.53 L616.28,40.41 L616.98,40.29 L617.68,40.17 L618.37,40.04 L619.07,39.90 L619.77,39.76 L620.46,39.61 L621.16,39.46 L621.86,39.30 L622.55,39.13 L623.25,38.96 L623.95,38.78 L624.64,38.60 L625.34,38.41 L626.04,38.22 L626.74,38.02 L627.43,37.81 L628.13,37.60 L628.83,37.38 L629.52,37.15 L630.22,36.92 L630.92,36.69 L631.61,36.44 L632.31,36.19 L633.01,35.94 L633.70,35.68 L634.40,35.41 L635.10,35.13 L635.79,34.85 L636.49,34.56 L637.19,34.27 L637.88,33.97 L638.58,33.66 L639.28,33.35 L639.98,33.03 L640.67,32.70 L641.37,32.37 L642.07,32.03 L642.76,31.68 L643.46,31.33 L644.16,30.96 L644.85,30.60 L645.55,30.22 L646.25,29.84 L646.94,29.45 L647.64,29.05 L648.34,28.65 L649.03,28.24 L649.73,27.82 L650.43,27.39 L651.12,26.96 L651.82,26.51 L652.52,26.06 L653.21,25.61 L653.91,25.14 L654.61,24.67 L655.31,24.19 L656.00,23.70 L656.70,23.20 L657.40,22.70 L658.09,22.18 L658.79,21.66 L659.49,21.13 L660.18,20.59 L660.88,20.04 L661.58,19.49 L662.27,18.92 L662.97,18.35 L663.67,17.76 L664.36,17.17 L665.06,16.57 L665.76,15.96 L666.45,15.33 L667.15,14.70 L667.85,14.06 L668.54,13.41 L669.24,12.75 L669.94,12.08 L670.63,11.40 L671.33,10.71" stroke="#55A868"/>
<path d="M531.97,10.71 L532.66,15.07 L533.36,19.26 L534.06,23.28 L534.76,27.14 L535.45,30.85 L536.15,34.42 L536.85,37.85 L537.54,41.16 L538.24,44.35 L538.94,47.43 L539.63,50.39 L540.33,53.26 L541.03,56.02 L541.72,58.69 L542.42,61.26 L543.12,63.76 L543.81,66.17 L544.51,68.50 L545.21,70.75 L545.90,72.93 L546.60,75.05 L547.30,77.09 L548.00,79.07 L548.69,80.99 L549.39,82.85 L550.09,84.66 L550.78,86.41 L551.48,88.10 L552.18,89.75 L552.87,91.35 L553.57,92.89 L554.27,94.40 L554.96,95.86 L555.66,97.27 L556.36,98.65 L557.05,99.98 L557.75,101.27 L558.45,102.53 L559.14,103.75 L559.84,104.94 L560.54,106.09 L561.23,107.21 L561.93,108.29 L562.63,109.35 L563.33,110.37 L564.02,111.37 L564.72,112.33 L565.42,113.27 L566.11,114.18 L566.81,115.06 L567.51,115.92 L568.20,116.75 L568.90,117.55 L569.60,118.34 L570.29,119.10 L570.99,119.83 L571.69,120.54 L572.38,121.23 L573.08,121.90 L573.78,122.55 L574.47,123.18 L575.17,123.78 L575.87,124.37 L576.56,124.94 L577.26,125.48 L577.96,126.01 L578.65,126.52 L579.35,127.01 L580.05,127.49 L580.75,127.94 L581.44,128.38 L582.14,128.80 L582.84,129.21 L583.53,129.60 L584.23,129.97 L584.93,130.32 L585.62,130.66 L586.32,130.99 L587.02,131.29 L587.71,131.59 L588.41,131.86 L589.11,132.13 L589.80,132.37 L590.50,132.61 L591.20,132.82 L591.89,133.03 L592.59,133.21 L593.29,133.39 L593.99,133.55 L594.68,133.69 L595.38,133.83 L596.08,133.94 L596.77,134.05 L597.47,134.14 L598.17,134.21 L598.86,134.27 L599.56,134.32 L600.26,134.36 L600.95,134.38 L601.65,134.38 L602.35,134.38 L603.04,134.36 L603.74,134.32 L604.44,134.27 L605.13,134.21 L605.83,134.14 L606.53,134.05 L607.22,133.94 L607.92,133.83 L608.62,133.69 L609.32,133.55 L610.01,133.39 L610.71,133.21 L611.41,133.03 L612.10,132.82 L612.80,132.61 L613.50,132.37 L614.19,132.13 L614.89,131.86 L615.59,131.59 L616.28,131.29 L616.98,130.99 L617.68,130.66 L618.37,130.32 L619.07,129.97 L619.77,129.60 L620.46,129.21 L621.16,128.80 L621.86,128.38 L622.55,127.94 L623.25,127.49 L623.95,127.01 L624.64,126.52 L625.34,126.01 L626.04,125.48 L626.74,124.94 L627.43,124.37 L628.13,123.78 L628.83,123.18 L629.52,122.55 L630.22,121.90 L630.92,121.23 L631.61,120.54 L632.31,119.83 L633.01,119.10 L633.70,118.34 L634.40,117.55 L635.10,116.75 L635.79,115.92 L636.49,115.06 L637.19,114.18 L637.88,113.27 L638.58,112.33 L639.28,111.37 L639.98,110.37 L640.67,109.35 L641.37,108.29 L642.07,107.21 L642.76,106.09 L643.46,104.94 L644.16,103.75 L644.85,102.53 L645.55,101.27 L646.25,99.98 L646.94,98.65 L647.64,97.27 L648.34,95.86 L649.03,94.40 L649.73,92.89 L650.43,91.35 L651.12,89.75 L651.82,88.10 L652.52,86.41 L653.21,84.66 L653.91,82.85 L654.61,80.99 L655.31,79.07 L656.00,77.09 L656.70,75.05 L657.40,72.93 L658.09,70.75 L658.79,68.50 L659.49,66.17 L660.18,63.76 L660.88,61.26 L661.58,58.69 L662.27,56.02 L662.97,53.26 L663.67,50.39 L664.36,47.43 L665.06,44.35 L665.76,41.16 L666.45,37.85 L667.15,34.42 L667.85,30.85 L668.54,27.14 L669.24,23.28 L669.94,19.26 L670.63,15.07 L671.33,10.71" stroke="#C44E52"/>
<path d="M531.97,10.71 L532.66,21.49 L533.36,31.37 L534.06,40.46 L534.76,48.84 L535.45,56.59 L536.15,63.79 L536.85,70.49 L537.54,76.73 L538.24,82.56 L538.94,88.03 L539.63,93.15 L540.33,97.97 L541.03,102.51 L541.72,106.78 L542.42,110.82 L543.12,114.64 L543.81,118.26 L544.51,121.69 L545.21,124.94 L545.90,128.04 L546.60,130.98 L547.30,133.78 L548.00,136.45 L548.69,139.00 L549.39,141.43 L550.09,143.75 L550.78,145.97 L551.48,148.10 L552.18,150.13 L552.87,152.08 L553.57,153.95 L554.27,155.75 L554.96,157.47 L555.66,159.12 L556.36,160.71 L557.05,162.24 L557.75,163.70 L558.45,165.11 L559.14,166.47 L559.84,167.78 L560.54,169.04 L561.23,170.25 L561.93,171.42 L562.63,172.54 L563.33,173.63 L564.02,174.68 L564.72,175.68 L565.42,176.66 L566.11,177.59 L566.81,178.50 L567.51,179.37 L568.20,180.21 L568.90,181.02 L569.60,181.81 L570.29,182.56 L570.99,183.29 L571.69,183.99 L572.38,184.67 L573.08,185.32 L573.78,185.95 L574.47,186.56 L575.17,187.14 L575.87,187.71 L576.56,188.25 L577.26,188.77 L577.96,189.27 L578.65,189.75 L579.35,190.22 L580.05,190.66 L580.75,191.09 L581.44,191.50 L582.14,191.89 L582.84,192.27 L583.53,192.63 L584.23,192.97 L584.93,193.30 L585.62,193.61 L586.32,193.91 L587.02,194.19 L587.71,194.46 L588.41,194.71 L589.11,194.95 L589.80,195.17 L590.50,195.38 L591.20,195.58 L591.89,195.76 L592.59,195.93 L593.29,196.09 L593.99,196.24 L594.68,196.37 L595.38,196.48 L596.08,196.59 L596.77,196.68 L597.47,196.76 L598.17,196.83 L598.86,196.89 L599.56,196.93 L600.26,196.96 L600.95,196.98 L601.65,196.99 L602.35,196.98 L603.04,196.96 L603.74,196.93 L604.44,196.89 L605.13,196.83 L605.83,196.76 L606.53,196.68 L607.22,196.59 L607.92,196.48 L608.62,196.37 L609.32,196.24 L610.01,196.09 L610.71,195.93 L611.41,195.76 L612.10,195.58 L612.80,195.38 L613.50,195.17 L614.19,194.95 L614.89,194.71 L615.59,194.46 L616.28,194.19 L616.98,193.91 L617.68,193.61 L618.37,193.30 L619.07,192.97 L619.77,192.63 L620.46,192.27 L621.16,191.89 L621.86,191.50 L622.55,191.09 L623.25,190.66 L623.95,190.22 L624.64,189.75 L625.34,189.27 L626.04,188.77 L626.74,188.25 L627.43,187.71 L628.13,187.14 L628.83,186.56 L629.52,185.95 L630.22,185.32 L630.92,184.67 L631.61,183.99 L632.31,183.29 L633.01,182.56 L633.70,181.81 L634.40,181.02 L635.10,180.21 L635.79,179.37 L636.49,178.50 L637.19,177.59 L637.88,176.66 L638.58,175.68 L639.28,174.68 L639.98,173.63 L640.67,172.54 L641.37,171.42 L642.07,170.25 L642.76,169.04 L643.46,167.78 L644.16,166.47 L644.85,165.11 L645.55,163.70 L646.25,162.24 L646.94,160.71 L647.64,159.12 L648.34,157.47 L649.03,155.75 L649.73,153.95 L650.43,152.08 L651.12,150.13 L651.82,148.10 L652.52,145.97 L653.21,143.75 L653.91,141.43 L654.61,139.00 L655.31,136.45 L656.00,133.78 L656.70,130.98 L657.40,128.04 L658.09,124.94 L658.79,121.69 L659.49,118.26 L660.18,114.64 L660.88,110.82 L661.58,106.78 L662.27,102.51 L662.97,97.97 L663.67,93.15 L664.36,88.03 L665.06,82.56 L665.76,76.73 L666.45,70.49 L667.15,63.79 L667.85,56.59 L668.54,48.84 L669.24,40.46 L669.94,31.37 L670.63,21.49 L671.33,10.71" stroke="#FFA500"/>
</g>
<line x1="531.97" y1="206.3" x2="531.97" y2="211.40" stroke="#262626" stroke-width="1.4"/>
<text transform="translate(531.97,233.80) scale(1.07,1)" text-anchor="middle" class="t">0.00</text>
<line x1="566.81" y1="206.3" x2="566.81" y2="211.40" stroke="#262626" stroke-width="1.4"/>
<text transform="translate(566.81,233.80) scale(1.07,1)" text-anchor="middle" class="t">0.25</text>
<line x1="601.65" y1="206.3" x2="601.65" y2="211.40" stroke="#262626" stroke-width="1.4"/>
<text transform="translate(601.65,233.80) scale(1.07,1)" text-anchor="middle" class="t">0.50</text>
<line x1="636.49" y1="206.3" x2="636.49" y2="211.40" stroke="#262626" stroke-width="1.4"/>
<text transform="translate(636.49,233.80) scale(1.07,1)" text-anchor="middle" class="t">0.75</text>
<line x1="671.33" y1="206.3" x2="671.33" y2="211.40" stroke="#262626" stroke-width="1.4"/>
<text transform="translate(671.33,233.80) scale(1.07,1)" text-anchor="middle" class="t">1.00</text>
<line x1="519.90" y1="177.67" x2="525.0" y2="177.67" stroke="#262626" stroke-width="1.4"/>
<text transform="translate(509.30,183.17) scale(1.07,1)" text-anchor="end" class="t">0.4</text>
<line x1="519.90" y1="122.02" x2="525.0" y2="122.02" stroke="#262626" stroke-width="1.4"/>
<text transform="translate(509.30,127.52) scale(1.07,1)" text-anchor="end" class="t">0.6</text>
<line x1="519.90" y1="66.37" x2="525.0" y2="66.37" stroke="#262626" stroke-width="1.4"/>
<text transform="translate(509.30,71.87) scale(1.07,1)" text-anchor="end" class="t">0.8</text>
<line x1="519.90" y1="10.71" x2="525.0" y2="10.71" stroke="#262626" stroke-width="1.4"/>
<text transform="translate(509.30,16.21) scale(1.07,1)" text-anchor="end" class="t">1.0</text>
<text transform="translate(597.46,258.55) scale(1.128,1)" style="font-size:15.23px;font-style:italic;">θ</text>
<text transform="translate(-0.04,100.56) scale(1.061,1)" style="font-size:14.03px;font-style:italic;stroke-width:0.3px">q</text>
<text transform="translate(7.10,102.80) scale(1.008,1)" style="font-size:10.15px;font-style:normal;">1</text>
<text transform="translate(234.76,100.56) scale(1.061,1)" style="font-size:14.03px;font-style:italic;stroke-width:0.3px">q</text>
<text transform="translate(242.15,102.80) scale(1.197,1)" style="font-size:10.42px;font-style:normal;">2</text>
<line x1="469.9" y1="92.6" x2="481.9" y2="92.6" stroke="#262626" stroke-width="0.8"/>
<text transform="translate(470.43,88.51) scale(1.205,1)" style="font-size:9.36px;font-style:italic;stroke-width:0.2px">q</text>
<text transform="translate(476.15,90.30) scale(1.226,1)" style="font-size:7.88px;font-style:normal;">1</text>
<text transform="translate(470.72,101.45) scale(1.192,1)" style="font-size:9.65px;font-style:italic;stroke-width:0.2px">q</text>
<text transform="translate(476.73,102.30) scale(1.276,1)" style="font-size:6.65px;font-style:normal;">2</text>
<rect x="93.1" y="268.4" width="475.80" height="28.00" rx="2.8" fill="#EEEEF5" stroke="#C3C3C6" stroke-width="1"/>
<line x1="99.40" y1="280.3" x2="131.70" y2="280.3" stroke="#4C72B0" stroke-width="2.8" stroke-linecap="round"/>
<text transform="translate(144.30,285.85) scale(1.071,1)" style="font-size:15.37px;font-style:italic;">θ</text>
<text transform="translate(152.11,288.11) scale(1.393,1)" style="font-size:10.70px;font-style:italic;">μ</text>
<rect x="165.80" y="279.5" width="10.2" height="0.85" fill="#262626"/>
<rect x="165.80" y="282.9" width="10.2" height="0.85" fill="#262626"/>
<text transform="translate(181.10,285.90) scale(1.07,1)" class="t">1</text>
<line x1="221.40" y1="280.3" x2="253.70" y2="280.3" stroke="#55A868" stroke-width="2.8" stroke-linecap="round"/>
<text transform="translate(266.30,285.85) scale(1.071,1)" style="font-size:15.37px;font-style:italic;">θ</text>
<text transform="translate(274.11,288.11) scale(1.393,1)" style="font-size:10.70px;font-style:italic;">μ</text>
<rect x="287.80" y="279.5" width="10.2" height="0.85" fill="#262626"/>
<rect x="287.80" y="282.9" width="10.2" height="0.85" fill="#262626"/>
<text transform="translate(303.10,285.90) scale(1.07,1)" class="t">2</text>
<line x1="343.40" y1="280.3" x2="375.70" y2="280.3" stroke="#C44E52" stroke-width="2.8" stroke-linecap="round"/>
<text transform="translate(388.30,285.85) scale(1.071,1)" style="font-size:15.37px;font-style:italic;">θ</text>
<text transform="translate(396.11,288.11) scale(1.393,1)" style="font-size:10.70px;font-style:italic;">μ</text>
<rect x="409.80" y="279.5" width="10.2" height="0.85" fill="#262626"/>
<rect x="409.80" y="282.9" width="10.2" height="0.85" fill="#262626"/>
<text transform="translate(425.10,285.90) scale(1.07,1)" class="t">5</text>
<line x1="465.40" y1="280.3" x2="497.70" y2="280.3" stroke="#FFA500" stroke-width="2.8" stroke-linecap="round"/>
<text transform="translate(510.30,285.85) scale(1.071,1)" style="font-size:15.37px;font-style:italic;">θ</text>
<text transform="translate(518.11,288.11) scale(1.393,1)" style="font-size:10.70px;font-style:italic;">μ</text>
<rect x="531.80" y="279.5" width="10.2" height="0.85" fill="#262626"/>
<rect x="531.80" y="282.9" width="10.2" height="0.85" fill="#262626"/>
<text transform="translate(547.10,285.90) scale(1.07,1)" class="t">10</text>
</svg>
</body></html>
